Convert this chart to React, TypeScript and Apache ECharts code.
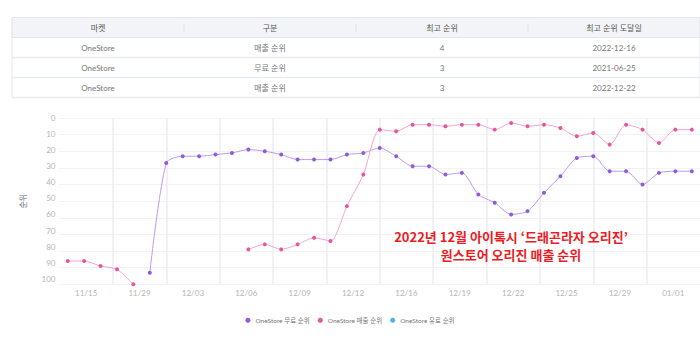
import React, { useEffect, useRef } from 'react';
import * as echarts from 'echarts';

// ---- data ----
const dates = [
  '11/25', '11/26', '11/27', '11/28', '11/29', '11/30',
  '12/01', '12/02', '12/03', '12/04', '12/05', '12/06', '12/07', '12/08', '12/09', '12/10',
  '12/11', '12/12', '12/13', '12/14', '12/15', '12/16', '12/17', '12/18', '12/19', '12/20',
  '12/21', '12/22', '12/23', '12/24', '12/25', '12/26', '12/27', '12/28', '12/29', '12/30',
  '12/31', '01/01', '01/02',
];
const tickLabels = ['11/15', '11/29', '12/03', '12/06', '12/09', '12/12', '12/16', '12/19', '12/22', '12/25', '12/29', '01/01'];
const yTicks = [0, 10, 20, 30, 40, 50, 60, 70, 80, 90, 100];

const freeRank = [
  null, null, null, null, null, 93, 27, 23, 23, 22, 21, 19, 20, 22, 25, 25, 25, 22, 21, 18,
  23, 29, 29, 34, 33, 46, 51, 58, 56, 45, 35, 24, 23, 32, 32, 40, 33, 32, 32,
];
const salesRank = [
  86, 86, 89, 91, 100, null, null, null, null, null, null, 79, 76, 79, 76, 72, 74, 53, 34, 7,
  8, 4, 4, 5, 4, 4, 7, 3, 5, 4, 6, 11, 9, 16, 4, 7, 15, 7, 7,
];
const paidRank: (number | null)[] = [];

const seriesNames = ['OneStore 무료 순위', 'OneStore 매출 순위', 'OneStore 유료 순위'];
const yAxisName = '순위';

const tableHeaders = ['마켓', '구분', '최고 순위', '최고 순위 도달일'];
const tableMarkets = ['OneStore', 'OneStore', 'OneStore'];
const tableTypes = ['매출 순위', '무료 순위', '매출 순위'];
const tableBestRanks = ['4', '3', '3'];
const tableBestDates = ['2022-12-16', '2021-06-25', '2022-12-22'];

const annotationLines = ['2022년 12월 아이톡시 ‘드래곤라자 오리진’', '원스토어 오리진 매출 순위'];

const FONT = 'Lato, "Noto Sans CJK KR", sans-serif';

function buildTable(): any[] {
  const TL = 12, TR = 700, TT = 17.5, RH = 20;
  const colW = (TR - TL) / tableHeaders.length;
  const els: any[] = [];
  els.push({
    type: 'rect', shape: { x: TL, y: TT, width: TR - TL, height: RH * 4 },
    style: { fill: '#ffffff', stroke: '#e6e8ef', lineWidth: 1 }, silent: true,
  });
  els.push({
    type: 'rect', shape: { x: TL, y: TT, width: TR - TL, height: RH },
    style: { fill: '#f3f4f8', stroke: '#e3e5ee', lineWidth: 1 }, silent: true,
  });
  for (let i = 1; i < tableHeaders.length; i++) {
    els.push({
      type: 'line', shape: { x1: TL + colW * i, y1: TT + 6, x2: TL + colW * i, y2: TT + 14 },
      style: { stroke: '#e0e1e6', lineWidth: 1 }, silent: true,
    });
  }
  tableHeaders.forEach((h, i) => {
    els.push({
      type: 'text', x: TL + colW * (i + 0.5), y: TT + RH / 2,
      style: { text: h, fill: '#555', font: `8px ${FONT}`, align: 'center', verticalAlign: 'middle' },
      silent: true,
    });
  });
  const rows = tableMarkets.map((m, r) => [m, tableTypes[r], tableBestRanks[r], tableBestDates[r]]);
  rows.forEach((row, r) => {
    const y0 = TT + RH * (r + 1);
    els.push({
      type: 'line', shape: { x1: TL, y1: y0 + RH, x2: TR, y2: y0 + RH },
      style: { stroke: '#e8eaf0', lineWidth: 1.5 }, silent: true,
    });
    row.forEach((cell, c) => {
      els.push({
        type: 'text', x: TL + colW * (c + 0.5), y: y0 + RH / 2,
        style: { text: cell, fill: '#777', font: `8px ${FONT}`, align: 'center', verticalAlign: 'middle' },
        silent: true,
      });
    });
  });
  return els;
}

export default function App() {
  const ref = useRef<HTMLDivElement>(null);
  useEffect(() => {
    if (!ref.current) return;
    const chart = echarts.init(ref.current, null, { renderer: 'svg' });
    const purple = '#9358e0';
    const purpleLine = '#b99af0';
    const pink = '#e8559f';
    const pinkLine = '#f5a3cd';
    const blue = '#4db4e8';
    chart.setOption({
      animation: false,
      textStyle: { fontFamily: FONT },
      grid: { left: 59.5, right: 0, top: 118, bottom: 67.7, containLabel: false },
      legend: {
        data: seriesNames,
        top: 312,
        left: 'center',
        icon: 'circle',
        itemWidth: 5,
        itemHeight: 5,
        itemGap: 8,
        textStyle: { fontSize: 6.5, color: '#777', fontFamily: FONT },
      },
      xAxis: [
        {
          type: 'category', data: dates, boundaryGap: true, show: false,
        },
        {
          type: 'category', data: tickLabels, boundaryGap: true, position: 'bottom',
          axisLine: { show: false }, axisTick: { show: false },
          axisLabel: { color: '#b5b5b5', fontSize: 8, margin: 5, fontFamily: FONT },
          splitLine: { show: true, showMinLine: false, showMaxLine: false, lineStyle: { color: '#ebebf3', width: 1.5 } },
        },
      ],
      yAxis: [
        {
          type: 'value', inverse: true, min: 0, max: 100, interval: 10,
          name: yAxisName, nameLocation: 'middle', nameGap: 33,
          nameTextStyle: { color: '#666', fontSize: 8, fontFamily: FONT },
          axisLine: { show: false }, axisTick: { show: false }, axisLabel: { show: false },
          splitLine: { show: true, lineStyle: { color: '#e4e4e4', type: 'dotted', width: 1 } },
        },
        {
          type: 'value', inverse: true, min: 0, max: 103.4, interval: 10, position: 'left',
          axisLine: { show: false }, axisTick: { show: false },
          splitLine: { show: false },
          axisLabel: {
            color: '#b5b5b5', fontSize: 8, margin: 4, fontFamily: FONT,
            formatter: (v: number) => (yTicks.indexOf(Math.round(v * 1000) / 1000) >= 0 ? String(v) : ''),
          },
        },
      ],
      series: [
        {
          name: seriesNames[0], type: 'line', data: freeRank, xAxisIndex: 0, yAxisIndex: 0,
          smooth: 0.25, connectNulls: false, symbol: 'circle', symbolSize: 4, showSymbol: true,
          itemStyle: { color: purple }, lineStyle: { color: purpleLine, width: 1 },
        },
        {
          name: seriesNames[1], type: 'line', data: salesRank, xAxisIndex: 0, yAxisIndex: 0,
          smooth: 0.25, connectNulls: false, symbol: 'circle', symbolSize: 4, showSymbol: true,
          itemStyle: { color: pink }, lineStyle: { color: pinkLine, width: 1 },
        },
        {
          name: seriesNames[2], type: 'line', data: paidRank, xAxisIndex: 0, yAxisIndex: 0,
          symbol: 'circle', symbolSize: 4, itemStyle: { color: blue }, lineStyle: { color: blue, width: 1 },
        },
      ],
      graphic: [
        ...buildTable(),
        ...annotationLines.map((line, i) => ({
          type: 'text', x: 511, y: 236.5 + i * 17.5, z: 100,
          style: {
            text: line, fill: '#ec1c24',
            font: `bold 13px "Noto Sans CJK KR", sans-serif`, align: 'center', verticalAlign: 'middle',
          },
          silent: true,
        })),
      ],
    });
    return () => chart.dispose();
  }, []);
  return <div ref={ref} style={{ position: 'absolute', left: 0, top: 0, width: 700, height: 352 }} />;
}
